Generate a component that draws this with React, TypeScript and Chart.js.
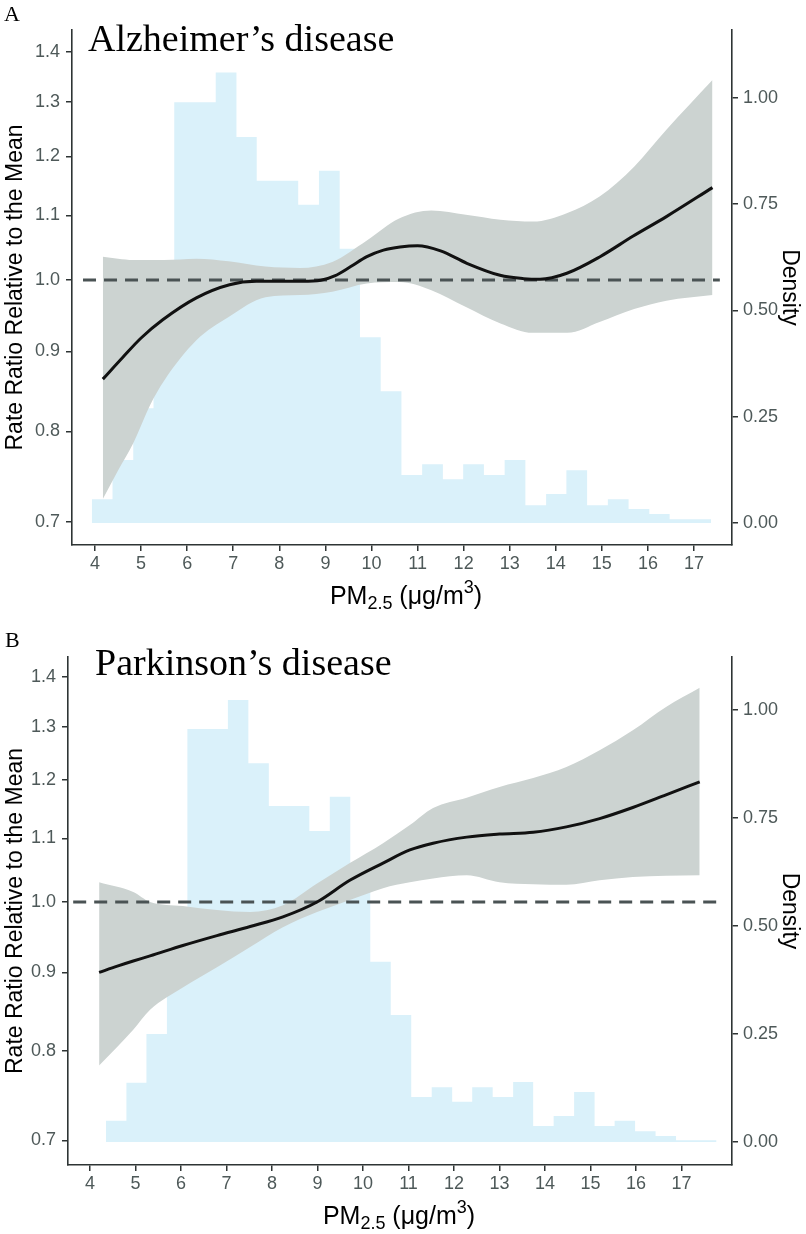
import React, { useEffect, useRef } from 'react';
import { Chart, registerables } from 'chart.js';

Chart.register(...registerables);

// ---------- shared tick labels ----------
const xTicks = [4, 5, 6, 7, 8, 9, 10, 11, 12, 13, 14, 15, 16, 17];
const rateRatioTicks = [0.7, 0.8, 0.9, 1.0, 1.1, 1.2, 1.3, 1.4];
const densityTicks = [0, 0.25, 0.5, 0.75, 1.0];

// ---------- Panel A: Alzheimer's disease ----------
const histEdgesA = [3.93, 4.38, 4.83, 5.27, 5.72, 6.17, 6.62, 7.07, 7.51, 7.96, 8.41, 8.86, 9.31, 9.75, 10.2, 10.65, 11.1, 11.55, 11.99, 12.44, 12.89, 13.34, 13.79, 14.23, 14.68, 15.13, 15.58, 16.03, 16.47, 16.92, 17.37];
const histDensityA = [0.056, 0.148, 0.27, 0.45, 0.99, 0.99, 1.06, 0.908, 0.805, 0.805, 0.749, 0.829, 0.645, 0.437, 0.31, 0.113, 0.138, 0.103, 0.138, 0.113, 0.148, 0.042, 0.068, 0.124, 0.042, 0.056, 0.033, 0.021, 0.009, 0.009];
const curveXA = [4.17, 4.6, 5.0, 5.47, 6.2, 6.92, 7.5, 8.0, 8.5, 8.9, 9.2, 9.55, 9.9, 10.26, 10.62, 11.0, 11.5, 12.07, 12.79, 13.3, 13.66, 14.24, 14.96, 15.68, 16.4, 17.4];
const curveRRA = [0.864, 0.892, 0.918, 0.943, 0.974, 0.993, 0.998, 0.998, 0.998, 0.9995, 1.006, 1.02, 1.035, 1.045, 1.05, 1.052, 1.044, 1.025, 1.007, 1.002, 1.001, 1.01, 1.035, 1.067, 1.098, 1.146];
const bandXA = [4.17, 4.5, 4.83, 5.2, 5.5, 6.2, 6.9, 7.7, 8.45, 9.15, 9.9, 10.6, 11.3, 12.05, 12.8, 13.5, 14.25, 14.95, 15.7, 16.4, 17.4];
const bandUpperA = [1.035, 1.032, 1.03, 1.03, 1.03, 1.032, 1.028, 1.02, 1.018, 1.027, 1.06, 1.095, 1.108, 1.101, 1.093, 1.09, 1.104, 1.131, 1.182, 1.248, 1.343];
const bandLowerA = [0.724, 0.755, 0.786, 0.832, 0.862, 0.915, 0.947, 0.975, 0.978, 0.983, 0.995, 0.997, 0.985, 0.961, 0.938, 0.925, 0.925, 0.94, 0.958, 0.97, 0.978];
const refLineXA = [3.74, 17.56];

// ---------- Panel B: Parkinson's disease ----------
const histEdgesB = [4.35, 4.8, 5.24, 5.69, 6.14, 6.59, 7.03, 7.48, 7.93, 8.38, 8.82, 9.27, 9.72, 10.16, 10.61, 11.06, 11.51, 11.96, 12.4, 12.85, 13.3, 13.74, 14.19, 14.64, 15.09, 15.53, 15.98, 16.43, 16.88, 17.32, 17.77];
const histDensityB = [0.049, 0.137, 0.25, 0.42, 0.956, 0.956, 1.023, 0.877, 0.778, 0.778, 0.72, 0.799, 0.62, 0.417, 0.294, 0.104, 0.127, 0.093, 0.127, 0.104, 0.139, 0.037, 0.06, 0.116, 0.037, 0.049, 0.025, 0.014, 0.004, 0.004];
const curveXB = [4.2, 4.6, 4.95, 5.32, 6.04, 6.79, 7.52, 8.24, 8.99, 9.71, 10.44, 11.03, 11.54, 12.28, 13.0, 13.74, 14.47, 15.2, 15.93, 16.66, 17.4];
const curveRRB = [0.9, 0.9085, 0.9155, 0.9225, 0.937, 0.951, 0.964, 0.978, 1.0, 1.033, 1.06, 1.081, 1.092, 1.102, 1.107, 1.11, 1.119, 1.133, 1.152, 1.174, 1.197];
const bandXB = [4.2, 4.95, 5.32, 6.04, 6.79, 7.52, 8.24, 8.99, 9.71, 10.44, 11.03, 11.54, 12.28, 13.0, 13.74, 14.47, 15.2, 15.93, 16.66, 17.4];
const bandUpperB = [1.03, 1.015, 1.0, 0.994, 0.988, 0.985, 0.995, 1.028, 1.06, 1.092, 1.122, 1.151, 1.169, 1.188, 1.204, 1.224, 1.255, 1.293, 1.339, 1.378];
const bandLowerB = [0.783, 0.826, 0.851, 0.88, 0.907, 0.935, 0.963, 0.985, 1.003, 1.021, 1.03, 1.036, 1.041, 1.03, 1.027, 1.026, 1.033, 1.038, 1.04, 1.041];
const refLineXB = [3.63, 17.8];

// ---------- styling ----------
const SANS = '"Liberation Sans", Arial, Helvetica, sans-serif';
const SERIF = '"Liberation Serif", "Times New Roman", Times, serif';
const TICK_COLOR = '#4e5959';
const AXIS_COLOR = '#2e3434';
const HIST_COLOR = '#daf1fa';
const BAND_COLOR = '#ccd3d1';
const CURVE_COLOR = '#111111';
const REF_COLOR = '#4a5354';

type PanelSpec = {
  letter: string;
  title: string;
  edges: number[];
  density: number[];
  curveX: number[];
  curveY: number[];
  bandX: number[];
  upper: number[];
  lower: number[];
  refX: number[];
  layout: {
    top: number; left: number; xAxisH: number;
    xMin: number; xMax: number; yMin: number; yMax: number; dMin: number; dMax: number;
    letterX: number; letterY: number; titleX: number; titleY: number;
    xTitleCenter: number; xTitleBaseline: number;
  };
};

const zip = (xs: number[], ys: number[]) => xs.map((x, i) => ({ x, y: ys[i] }));

function histPoints(edges: number[], dens: number[]) {
  const pts: { x: number; y: number }[] = [];
  dens.forEach((d, i) => {
    pts.push({ x: edges[i], y: d });
    pts.push({ x: edges[i + 1], y: d });
  });
  return pts;
}

function textPlugin(spec: PanelSpec) {
  const L = spec.layout;
  return {
    id: 'panelText',
    afterDraw(chart: any) {
      const ctx = chart.ctx as CanvasRenderingContext2D;
      ctx.save();
      ctx.fillStyle = '#000';
      ctx.textBaseline = 'alphabetic';
      ctx.textAlign = 'left';
      ctx.font = `22px ${SERIF}`;
      ctx.fillText(spec.letter, L.letterX, L.letterY);
      ctx.font = `38px ${SERIF}`;
      ctx.fillText(spec.title, L.titleX, L.titleY);
      const big = `25px ${SANS}`;
      const small = `18px ${SANS}`;
      const parts = [
        { t: 'PM', f: big, dy: 0 },
        { t: '2.5', f: small, dy: 5 },
        { t: ' (\u03bcg/m', f: big, dy: 0 },
        { t: '3', f: small, dy: -11 },
        { t: ')', f: big, dy: 0 },
      ];
      let total = 0;
      parts.forEach((p) => { ctx.font = p.f; total += ctx.measureText(p.t).width; });
      let x = L.xTitleCenter - total / 2;
      parts.forEach((p) => {
        ctx.font = p.f;
        ctx.fillText(p.t, x, L.xTitleBaseline + p.dy);
        x += ctx.measureText(p.t).width;
      });
      ctx.restore();
    },
  };
}

function buildConfig(spec: PanelSpec): any {
  const L = spec.layout;
  const tickFont = { family: SANS, size: 18 };
  const titleFont = { family: SANS, size: 23 };
  return {
    type: 'line',
    data: {
      datasets: [
        {
          label: 'curve', data: zip(spec.curveX, spec.curveY), yAxisID: 'y',
          borderColor: CURVE_COLOR, borderWidth: 3, pointRadius: 0, fill: false,
          cubicInterpolationMode: 'monotone', order: 1,
        },
        {
          label: 'ref', data: spec.refX.map((x) => ({ x, y: 1.0 })), yAxisID: 'y',
          borderColor: REF_COLOR, borderWidth: 3, borderDash: [13, 8], pointRadius: 0, fill: false, order: 2,
        },
        {
          label: 'upper', data: zip(spec.bandX, spec.upper), yAxisID: 'y',
          borderColor: 'rgba(0,0,0,0)', borderWidth: 0, pointRadius: 0,
          backgroundColor: BAND_COLOR, fill: '+1', cubicInterpolationMode: 'monotone', order: 3,
        },
        {
          label: 'lower', data: zip(spec.bandX, spec.lower), yAxisID: 'y',
          borderColor: 'rgba(0,0,0,0)', borderWidth: 0, pointRadius: 0, fill: false,
          cubicInterpolationMode: 'monotone', order: 3,
        },
        {
          label: 'hist', data: histPoints(spec.edges, spec.density), yAxisID: 'y2',
          borderColor: 'rgba(0,0,0,0)', borderWidth: 0, pointRadius: 0,
          backgroundColor: HIST_COLOR, fill: 'origin', tension: 0, order: 4,
        },
      ],
    },
    options: {
      animation: false,
      responsive: false,
      devicePixelRatio: 1,
      events: [],
      layout: { padding: { top: L.top, left: 0, right: 0, bottom: 0 } },
      plugins: { legend: { display: false }, tooltip: { enabled: false }, title: { display: false } },
      scales: {
        x: {
          type: 'linear', position: 'bottom', min: L.xMin, max: L.xMax, bounds: 'data',
          afterFit: (s: any) => { s.height = L.xAxisH; },
          afterBuildTicks: (s: any) => { s.ticks = xTicks.map((v) => ({ value: v })); },
          ticks: { font: tickFont, color: TICK_COLOR, padding: 2, autoSkip: false, maxRotation: 0, callback: (v: any) => String(v) },
          grid: { display: true, drawOnChartArea: false, drawTicks: true, tickLength: 6, color: AXIS_COLOR, lineWidth: 1.5 },
          border: { display: true, color: AXIS_COLOR, width: 1.6 },
        },
        y: {
          type: 'logarithmic', position: 'left', min: L.yMin, max: L.yMax, bounds: 'data',
          afterFit: (s: any) => { s.width = L.left; },
          afterBuildTicks: (s: any) => { s.ticks = rateRatioTicks.map((v) => ({ value: v })); },
          ticks: { font: tickFont, color: TICK_COLOR, padding: 6, autoSkip: false, callback: (v: any) => Number(v).toFixed(1) },
          grid: { display: true, drawOnChartArea: false, drawTicks: true, tickLength: 6, color: AXIS_COLOR, lineWidth: 1.5 },
          border: { display: true, color: AXIS_COLOR, width: 1.6 },
          title: { display: true, text: 'Rate Ratio Relative to the Mean', font: titleFont, color: '#000', padding: { top: 2, bottom: 0 } },
        },
        y2: {
          type: 'linear', position: 'right', min: L.dMin, max: L.dMax, bounds: 'data',
          afterFit: (s: any) => { s.width = 806 - 732; },
          afterBuildTicks: (s: any) => { s.ticks = densityTicks.map((v) => ({ value: v })); },
          ticks: { font: tickFont, color: TICK_COLOR, padding: 5, autoSkip: false, callback: (v: any) => Number(v).toFixed(2) },
          grid: { display: true, drawOnChartArea: false, drawTicks: true, tickLength: 6, color: AXIS_COLOR, lineWidth: 1.5 },
          border: { display: true, color: AXIS_COLOR, width: 1.6 },
          title: { display: true, text: 'Density', font: titleFont, color: '#000', padding: { top: 3, bottom: 0 } },
        },
      },
    },
    plugins: [textPlugin(spec)],
  };
}

const panelASpec: PanelSpec = {
  letter: 'A', title: 'Alzheimer\u2019s disease',
  edges: histEdgesA, density: histDensityA, curveX: curveXA, curveY: curveRRA,
  bandX: bandXA, upper: bandUpperA, lower: bandLowerA, refX: refLineXA,
  layout: {
    top: 30, left: 72, xAxisH: 72,
    xMin: 3.501, xMax: 17.824, yMin: 0.6765, yMax: 1.4459, dMin: -0.0518, dMax: 1.16,
    letterX: 4, letterY: 21, titleX: 88, titleY: 51, xTitleCenter: 406, xTitleBaseline: 604,
  },
};

const panelBSpec: PanelSpec = {
  letter: 'B', title: 'Parkinson\u2019s disease',
  edges: histEdgesB, density: histDensityB, curveX: curveXB, curveY: curveRRB,
  bandX: bandXB, upper: bandUpperB, lower: bandLowerB, refX: refLineXB,
  layout: {
    top: 40, left: 68, xAxisH: 69,
    xMin: 3.516, xMax: 18.11, yMin: 0.6746, yMax: 1.443, dMin: -0.0532, dMax: 1.1227,
    letterX: 5, letterY: 30, titleX: 95, titleY: 58, xTitleCenter: 399, xTitleBaseline: 607,
  },
};

function Panel({ spec, top }: { spec: PanelSpec; top: number }) {
  const ref = useRef<HTMLCanvasElement | null>(null);
  useEffect(() => {
    if (!ref.current) return;
    const chart = new Chart(ref.current, buildConfig(spec));
    return () => chart.destroy();
  }, [spec]);
  return (
    <canvas
      ref={ref}
      width={806}
      height={617}
      style={{ position: 'absolute', left: 0, top, width: 806, height: 617, display: 'block' }}
    />
  );
}

export default function App() {
  return (
    <div style={{ position: 'absolute', left: 0, top: 0, width: 806, height: 1234, background: '#fff' }}>
      <Panel spec={panelASpec} top={0} />
      <Panel spec={panelBSpec} top={617} />
    </div>
  );
}
